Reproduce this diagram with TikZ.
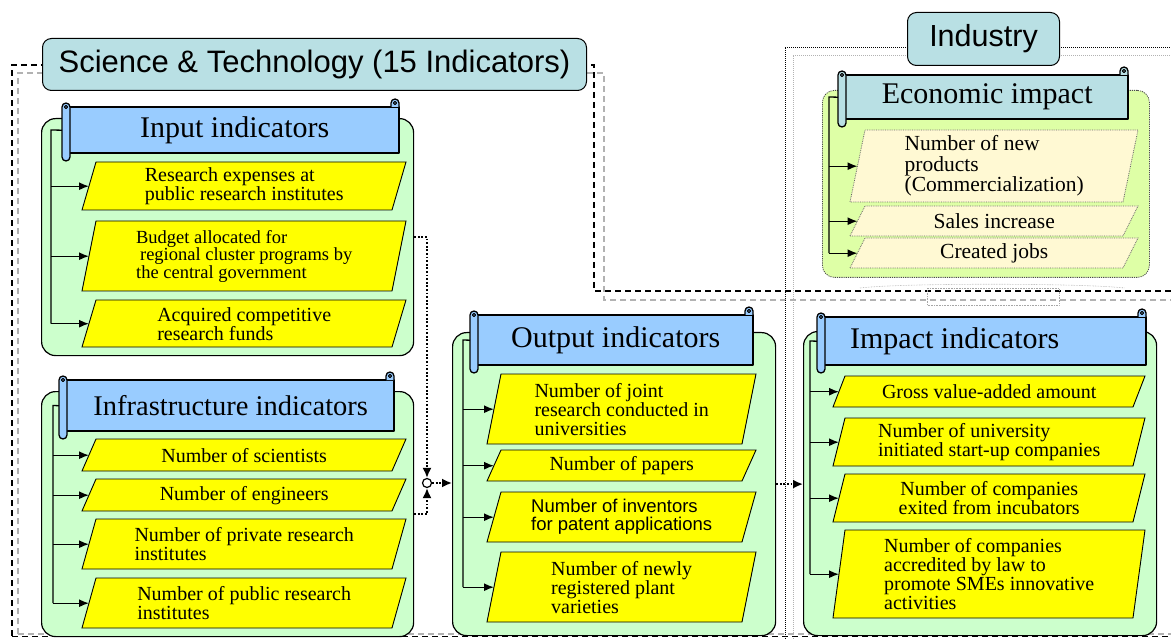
\documentclass[tikz,border=0pt]{standalone}
\usepackage{fontspec}
\setmainfont{Liberation Serif}
\newfontfamily\arialf{Liberation Sans}
\usetikzlibrary{arrows.meta,calc}

\definecolor{boxgreen}{HTML}{CCFFCC}
\definecolor{scrollblue}{HTML}{99CCFF}
\definecolor{itemyellow}{HTML}{FFFF00}
\definecolor{titleteal}{HTML}{B9E0E4}
\definecolor{ecogreen}{HTML}{DEFFA6}
\definecolor{ecoitem}{HTML}{FFF9D3}

\tikzset{
  cont/.style={draw, line width=1.2pt, fill=boxgreen, rounded corners=14pt, inner sep=0pt},
  scrline/.style={draw=black, line width=1.3pt, line join=round},
  yel/.style={draw, line width=0.9pt, fill=itemyellow},
  eco/.style={draw=black!60, line width=0.8pt, densely dotted, fill=ecoitem},
  itxt/.style={inner sep=0pt, align=left, font=\fontsize{20}{19}\selectfont},
  htxt/.style={inner sep=0pt, font=\fontsize{30}{30}\selectfont},
  arr/.style={line width=1.3pt, -{Latex[length=10pt,width=8pt]}},
  spine/.style={line width=1.3pt},
  dotarr/.style={line width=1.8pt, dash pattern=on 1.8pt off 1.8pt, -{Latex[length=10pt,width=9pt]}},
  titlebox/.style={draw, line width=1pt, fill=titleteal, rounded corners=9pt, inner sep=0pt, font=\arialf\fontsize{31}{31}\selectfont},
  stframe/.style={line width=1.3pt, dash pattern=on 6pt off 4pt},
  indframe/.style={line width=0.8pt, dash pattern=on 1pt off 1pt},
  junction/.style={circle, draw, fill=white, line width=1.2pt, minimum size=9pt, inner sep=0pt}
}

% parallelogram item: name, x1, y1, x2, y2, slant, shape style, text style, text
\newcommand\pitem[9]{%
  \filldraw[#7] (#2,#5) -- ({#2+#6},#3) -- (#4,#3) -- ({#4-#6},#5) -- cycle;
  \node[itxt, #8, minimum width={#4-#2}, minimum height={#5-#3}, anchor=north west] (#1) at (#2,#3) {#9};
}
% scroll heading: name, L, T, R, B, fill, text
\newcommand\scrl[7]{%
  \filldraw[scrline, fill=#6] ({#2+4},{#3+8}) rectangle (#4,{#5-8});
  \filldraw[scrline, fill=#6] ({#4-8},{#3+8}) -- ({#4-8},{#3+4}) arc[start angle=180, end angle=360, radius=4] -- (#4,{#3+8});
  \draw[scrline, line width=1pt] ({#4-4},{#3+4}) circle[radius=1.6];
  \filldraw[scrline, fill=#6, rounded corners=4pt] (#2,{#3+4}) rectangle ({#2+8},#5);
  \draw[scrline, line width=1pt] ({#2+4},{#3+8}) circle[radius=1.6];
  \node[htxt, minimum width={#4-#2-8}, minimum height={#5-#3-16}, anchor=north west] (#1) at ({#2+8},{#3+8}) {#7};
}

\begin{document}
\begin{tikzpicture}[x=1pt,y=-1pt]
\useasboundingbox (0,0) rectangle (1171,639);
\clip (0,0) rectangle (1171,639);

% frames
\draw[stframe] (12,636) -- (12,65) -- (594,65) -- (594,291) -- (1180,291);
\draw[stframe, gray!60] (18,634) -- (18,73) -- (604,73) -- (604,300) -- (1180,300);
\draw[indframe] (785,639) -- (785,47) -- (1180,47);
\draw[indframe, gray!60] (793,639) -- (793,55) -- (1180,55);
\draw[stframe, gray!60] (18,634) -- (1180,634);
\draw[stframe] (12,636.5) -- (1180,636.5);

% titles
\node[titlebox, minimum width=544pt, minimum height=52pt, anchor=north west] (st) at (42,38) {Science \& Technology (15 Indicators)};
\node[titlebox, font=\arialf\fontsize{30.5}{30.5}\selectfont, minimum width=152pt, minimum height=53pt, anchor=north west] (ind) at (907,12) {Industry};

% faint remnant below economic impact
\draw[gray!70, densely dotted, line width=0.6pt] (860,288) .. controls (900,283) and (1080,283) .. (1125,288);
\draw[gray!70, densely dotted, line width=0.6pt] (927,288) rectangle (1059,305);

% containers
\node[cont, minimum width=372pt, minimum height=237pt, anchor=north west] (inC) at (41,118) {};
\node[cont, minimum width=372pt, minimum height=245pt, anchor=north west] (infC) at (41,391) {};
\node[cont, minimum width=323pt, minimum height=303pt, anchor=north west] (outC) at (452,332) {};
\node[cont, minimum width=353pt, minimum height=304pt, anchor=north west] (impC) at (803,331) {};
\node[cont, fill=ecogreen, draw=black!70, densely dotted, line width=0.8pt, rounded corners=12pt, minimum width=327pt, minimum height=187pt, anchor=north west] (ecoC) at (822,90) {};

% spine coordinates
\coordinate (inS) at (51,130);
\coordinate (infS) at (53,405.5);
\coordinate (outS) at (463,340);
\coordinate (impS) at (810,341);
\coordinate (ecoS) at (829,97);

% headings
\scrl{inH}{62}{99}{399}{161}{scrollblue}{Input indicators}
\scrl{infH}{59}{372}{394}{439}{scrollblue}{\fontsize{28.5}{28.5}\selectfont Infrastructure indicators}
\scrl{outH}{470}{307}{753}{373}{scrollblue}{Output indicators}
\scrl{impH}{817}{309}{1146}{373}{scrollblue}{Impact indicators\hspace*{62pt}}
\scrl{ecoH}{838}{67}{1128}{127}{titleteal}{Economic impact}

% input items
\pitem{i1}{82}{162}{406}{210}{14}{yel}{}{Research expenses at\\public research institutes}
\pitem{i2}{82}{221}{406}{291}{14}{yel}{font=\fontsize{18.5}{17.5}\selectfont}{Budget allocated for\\\hspace*{4pt}regional cluster programs by\\the central government}
\pitem{i3}{82}{300}{406}{347}{14}{yel}{}{Acquired competitive\\research funds}

% infrastructure items
\pitem{f1}{82}{439}{406}{471}{14}{yel}{}{Number of scientists}
\pitem{f2}{82}{479}{406}{511}{14}{yel}{}{Number of engineers}
\pitem{f3}{82}{519}{406}{569}{14}{yel}{}{Number of private research\\institutes}
\pitem{f4}{82}{578}{406}{628}{14}{yel}{}{Number of public research\\institutes}

% output items
\pitem{o1}{487}{374}{756}{444}{14}{yel}{}{Number of joint\\research conducted in\\universities}
\pitem{o2}{487}{450}{756}{481}{14}{yel}{}{Number of papers}
\pitem{o3}{487}{492}{756}{542}{14}{yel}{font=\arialf\fontsize{18.5}{18}\selectfont}{Number of inventors\\for patent applications}
\pitem{o4}{487}{552}{756}{622}{14}{yel}{}{Number of newly\\registered plant\\varieties}

% impact items
\pitem{m1}{833}{376}{1145}{407}{12}{yel}{}{Gross value-added amount}
\pitem{m2}{833}{418}{1145}{466}{12}{yel}{}{Number of university\\initiated start-up companies}
\pitem{m3}{833}{474}{1145}{522}{12}{yel}{align=center}{Number of companies\\exited from incubators}
\pitem{m4}{833}{530}{1145}{618}{12}{yel}{}{Number of companies\\accredited by law to\\promote SMEs innovative\\activities}

% economic items
\pitem{e1}{850}{130}{1138}{202}{15}{eco}{font=\fontsize{21.5}{20.5}\selectfont}{Number of new\\products\\(Commercialization)}
\pitem{e2}{850}{206}{1138}{236}{15}{eco}{font=\fontsize{21.5}{20.5}\selectfont}{Sales increase}
\pitem{e3}{850}{238}{1138}{268}{15}{eco}{font=\fontsize{21.5}{20.5}\selectfont}{Created jobs}

% spines and arrows
\draw[spine] ([xshift=-8pt]inH.west) -- (inS) -- (inS |- i3.west);
\foreach \n in {i1,i2,i3} \draw[arr] (inS |- \n.west) -- ([xshift=7pt]\n.west);
\draw[spine] ([xshift=-8pt]infH.west) -- (infS) -- (infS |- f4.west);
\foreach \n in {f1,f2,f3,f4} \draw[arr] (infS |- \n.west) -- ([xshift=7pt]\n.west);
\draw[spine] ([xshift=-8pt]outH.west) -- (outS) -- (outS |- o4.west);
\foreach \n in {o1,o2,o3,o4} \draw[arr] (outS |- \n.west) -- ([xshift=7pt]\n.west);
\draw[spine] ([xshift=-8pt]impH.west) -- (impS) -- (impS |- m4.west);
\foreach \n in {m1,m2,m3,m4} \draw[arr] (impS |- \n.west) -- ([xshift=6pt]\n.west);
\draw[spine] ([xshift=-8pt]ecoH.west) -- (ecoS) -- (ecoS |- e3.west);
\foreach \n in {e1,e2,e3} \draw[arr] (ecoS |- \n.west) -- ([xshift=7.5pt]\n.west);

% dotted flow connectors
\node[junction] (junc) at (427,483) {};
\draw[dotarr] (inC.east) -| (junc.north);
\draw[dotarr] (infC.east) -| (junc.south);
\draw[dotarr] (junc.east) -- (junc.east -| outC.west);
\draw[dotarr] (outC.east) -- (outC.east -| impC.west);
\end{tikzpicture}
\end{document}
